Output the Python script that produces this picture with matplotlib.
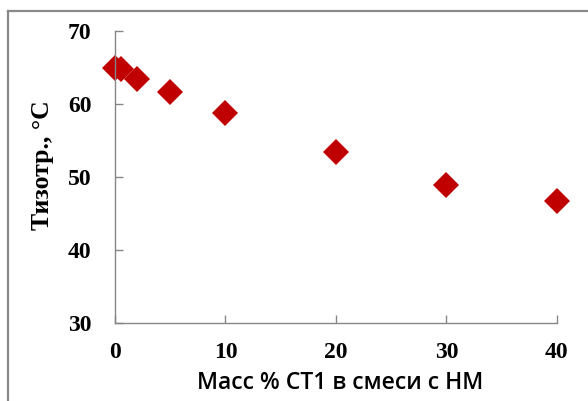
import matplotlib
matplotlib.use("Agg")
import matplotlib.pyplot as plt
from matplotlib.lines import Line2D

# mass % of CT1 in the mixture and isotropisation temperature
mass_pct = [0, 0.5, 2, 5, 10, 20, 30, 40]
t_iso = [65.0, 64.8, 63.4, 61.7, 58.8, 53.4, 48.9, 46.7]

x_ticks = [0, 10, 20, 30, 40]
y_ticks = [30, 40, 50, 60, 70]

fig = plt.figure(figsize=(5.88, 4.01), dpi=100)
ax = fig.add_axes([0.1956, 0.1953, 0.7514, 0.7267])

ax.plot(mass_pct, t_iso, linestyle="none", marker="D", markersize=13,
        color="#C00000", markeredgewidth=0, clip_on=False)

ax.set_xlim(0, 40)
ax.set_ylim(30, 70)
ax.set_xticks(x_ticks)
ax.set_yticks(y_ticks)

for s in ["top", "right"]:
    ax.spines[s].set_visible(False)
for s in ["left", "bottom"]:
    ax.spines[s].set_color("#868686")
    ax.spines[s].set_linewidth(1.0)

ax.tick_params(axis="both", direction="in", length=6, width=1, color="#868686")
ax.tick_params(axis="x", pad=14)
ax.tick_params(axis="y", pad=17)
for lbl in ax.get_xticklabels() + ax.get_yticklabels():
    lbl.set_fontfamily("Liberation Serif")
    lbl.set_fontweight("bold")
    lbl.set_fontsize(17)

ax.set_xlabel("Масс % СТ1 в смеси с НМ", fontfamily="Open Sans",
              fontweight="semibold", fontsize=16.5)
ax.xaxis.set_label_coords(0.51, -0.207)
ax.xaxis.label.set_va("center")
ax.set_ylabel("Тизотр., °C", fontfamily="Liberation Serif",
              fontweight="bold", fontsize=18.5)
ax.yaxis.set_label_coords(-0.165, 0.54)
ax.yaxis.label.set_va("center")

# outer chart frame (left and top edges visible)
fig.add_artist(Line2D([8 / 588, 8 / 588], [0, 1 - 11 / 401],
                      transform=fig.transFigure, color="#898989", lw=1.6))
fig.add_artist(Line2D([8 / 588, 1], [1 - 11 / 401, 1 - 11 / 401],
                      transform=fig.transFigure, color="#898989", lw=1.6))

fig.savefig("out.png", dpi=100)
